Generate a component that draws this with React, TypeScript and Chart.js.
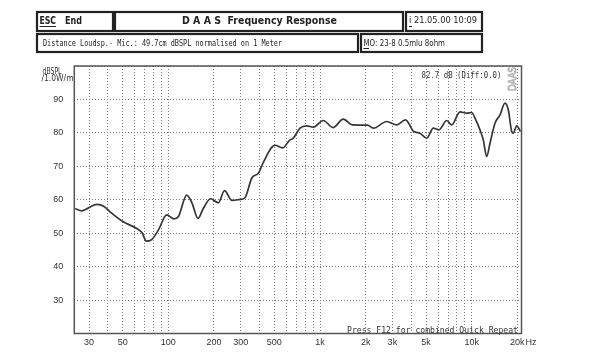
import React, { useEffect, useRef } from 'react';
import { Chart, registerables } from 'chart.js';

Chart.register(...registerables);

// ---- data ----
const freqHz = [24.3, 26.9, 29.6, 33.7, 37.7, 41.3, 50.5, 61.9, 67, 71.8, 77.7, 85.9, 97.6, 109, 116.4, 132.2, 143.3, 156.9, 170.1, 189.8, 213.6, 234.7, 263, 297, 320, 356, 392, 423, 505, 566, 634, 667, 738, 817, 903, 1051, 1218, 1424, 1638, 2056, 2246, 2753, 3203, 3661, 4153, 4563, 5051, 5584, 6088, 6843, 7383, 8375, 9271, 10000, 10515, 11344, 11925, 12560, 13204, 14246, 15371, 16580, 17433, 18354, 18805, 19811, 20981];
const splDb = [57.4, 56.7, 57.5, 58.6, 58.0, 56.4, 53.4, 51.4, 50.2, 47.6, 48.1, 50.9, 55.5, 54.3, 54.9, 61.4, 59.0, 54.4, 57.4, 60.3, 59.1, 62.7, 59.8, 60.1, 60.6, 66.6, 67.9, 71.2, 76.3, 75.5, 77.9, 78.4, 81.4, 82.1, 81.7, 83.7, 81.6, 84.1, 82.4, 82.3, 81.4, 83.4, 82.4, 83.9, 80.4, 79.9, 78.4, 81.4, 80.9, 83.7, 82.4, 86.3, 85.9, 86.1, 84.4, 80.9, 77.9, 72.9, 76.9, 82.9, 85.4, 88.9, 86.9, 80.4, 79.9, 82.1, 80.4];

const xGridHz = [30, 40, 50, 60, 70, 80, 90, 100, 200, 300, 400, 500, 600, 700, 800, 900, 1000, 2000, 3000, 4000, 5000, 6000, 7000, 8000, 9000, 10000, 20000];
const xTickValues = [30, 50, 100, 200, 300, 500, 1000, 2000, 3000, 5000, 10000, 20000];
const xTickLabels = ['30', '50', '100', '200', '300', '500', '1k', '2k', '3k', '5k', '10k', '20k'];
const yTickLabels = ['90', '80', '70', '60', '50', '40', '30'];

const headerTitle = 'D A A S  Frequency Response';
const headerDate = 'i 21.05.00 10:09';
const headerInfo = 'Distance Loudsp.- Mic.: 49.7cm dBSPL normalised on 1 Meter';
const headerMo = 'MO: 23-8 0.5mlu 8ohm';
const levelNote = '82.7 dB (Diff:0.0)';
const footNote = 'Press F12 for combined Quick Repeat';

function fitText(ctx: CanvasRenderingContext2D, text: string, x: number, y: number, w: number, font: string, color: string) {
  ctx.save();
  ctx.font = font;
  ctx.fillStyle = color;
  ctx.textBaseline = 'middle';
  ctx.textAlign = 'left';
  const m = ctx.measureText(text).width || 1;
  ctx.translate(x, y);
  ctx.scale(w / m, 1);
  ctx.fillText(text, 0, 0);
  ctx.restore();
}

const overlayPlugin = {
  id: 'overlay',
  afterDraw(chart: any) {
    const ctx: CanvasRenderingContext2D = chart.ctx;
    const a = chart.chartArea;
    ctx.save();
    // plot frame
    ctx.strokeStyle = '#555';
    ctx.lineWidth = 1.5;
    ctx.strokeRect(a.left, a.top, a.right - a.left, a.bottom - a.top);

    // header boxes
    ctx.strokeStyle = '#222';
    ctx.lineWidth = 2.2;
    const boxes = [
      [37, 12, 76, 19],
      [115, 12, 288, 19],
      [406, 12, 76, 19],
      [37, 34, 321, 18],
      [361, 34, 121, 18],
    ];
    boxes.forEach(([x, y, w, h]) => ctx.strokeRect(x, y, w, h));

    const hb = 'bold 10px "DejaVu Sans"';
    fitText(ctx, 'ESC', 39.5, 21, 16.5, hb, '#222');
    fitText(ctx, 'End', 65, 21, 17, hb, '#222');
    fitText(ctx, headerTitle, 182, 21.5, 155, hb, '#222');
    fitText(ctx, headerDate, 409, 21, 68, '9px "DejaVu Sans"', '#222');
    fitText(ctx, headerInfo, 43, 43.5, 239, '8px "DejaVu Sans Mono"', '#222');
    fitText(ctx, headerMo, 363.5, 43.5, 81.5, '8px "DejaVu Sans"', '#222');
    // underlines
    ctx.strokeStyle = '#222';
    ctx.lineWidth = 1;
    ctx.beginPath();
    ctx.moveTo(39.5, 26.5); ctx.lineTo(56, 26.5);
    ctx.moveTo(409, 26.5); ctx.lineTo(412, 26.5);
    ctx.moveTo(363.5, 48.5); ctx.lineTo(369, 48.5);
    ctx.stroke();

    // axis title
    fitText(ctx, 'dBSPL', 42.5, 71.5, 19, '8px "DejaVu Sans"', '#333');
    fitText(ctx, '/1.0W/m', 41.5, 78.5, 32, '8px "DejaVu Sans"', '#333');

    // in-plot notes
    fitText(ctx, levelNote, 421.5, 75.5, 80, '8px "DejaVu Sans Mono"', '#333');
    fitText(ctx, footNote, 347, 330.5, 171, '8px "DejaVu Sans Mono"', '#333');

    // vertical DAAS watermark
    ctx.save();
    ctx.translate(516, 91);
    ctx.rotate(-Math.PI / 2);
    ctx.font = '11px "DejaVu Sans"';
    const m = ctx.measureText('DAAS').width;
    ctx.scale(24 / m, 1);
    ctx.strokeStyle = '#a8a8a8';
    ctx.lineWidth = 0.8;
    ctx.textBaseline = 'alphabetic';
    ctx.strokeText('DAAS', 0, 0);
    ctx.restore();

    // Hz unit after 20k
    ctx.font = '9px "Liberation Sans"';
    ctx.fillStyle = '#333';
    ctx.textBaseline = 'middle';
    ctx.fillText('Hz', 525.5, 343);
    ctx.restore();
  },
};

export default function App() {
  const canvasRef = useRef<HTMLCanvasElement | null>(null);

  useEffect(() => {
    if (!canvasRef.current) return;
    const points = freqHz.map((f, i) => ({ x: f, y: splDb[i] }));
    const chart = new Chart(canvasRef.current, {
      type: 'line',
      data: {
        datasets: [
          {
            data: points,
            borderColor: '#363636',
            borderWidth: 1.7,
            pointRadius: 0,
            fill: false,
            cubicInterpolationMode: 'monotone',
          },
        ],
      },
      options: {
        animation: false,
        responsive: false,
        events: [],
        layout: { padding: { left: 0, right: 78.5, top: 66, bottom: 0 } },
        plugins: { legend: { display: false }, tooltip: { enabled: false }, title: { display: false } },
        scales: {
          x: {
            type: 'logarithmic',
            min: 24,
            max: 21300,
            afterBuildTicks: (scale: any) => {
              scale.ticks = xGridHz.map((v) => ({ value: v }));
            },
            afterFit: (scale: any) => {
              scale.height = 18.5;
            },
            grid: { color: '#7a7a7a', lineWidth: 1, drawTicks: false },
            border: { display: false, dash: [1, 2] },
            ticks: {
              autoSkip: false,
              maxRotation: 0,
              padding: 4,
              color: '#333',
              font: { family: '"Liberation Sans"', size: 9 },
              callback: (value: any) => {
                const idx = xTickValues.indexOf(Number(value));
                return idx >= 0 ? xTickLabels[idx] : '';
              },
            },
          },
          y: {
            type: 'linear',
            min: 20,
            max: 100,
            afterFit: (scale: any) => {
              scale.width = 74.3;
            },
            grid: { color: '#7a7a7a', lineWidth: 1, drawTicks: false },
            border: { display: false, dash: [1, 2] },
            ticks: {
              stepSize: 10,
              padding: 11,
              color: '#333',
              font: { family: '"Liberation Sans"', size: 9 },
              callback: (value: any) => {
                const s = String(value);
                return yTickLabels.indexOf(s) >= 0 ? s : '';
              },
            },
          },
        },
      },
      plugins: [overlayPlugin],
    } as any);
    return () => chart.destroy();
  }, []);

  return (
    <div style={{ position: 'absolute', left: 0, top: 0, width: 600, height: 352, background: '#fff' }}>
      <canvas ref={canvasRef} width={600} height={352} style={{ display: 'block' }} />
    </div>
  );
}
